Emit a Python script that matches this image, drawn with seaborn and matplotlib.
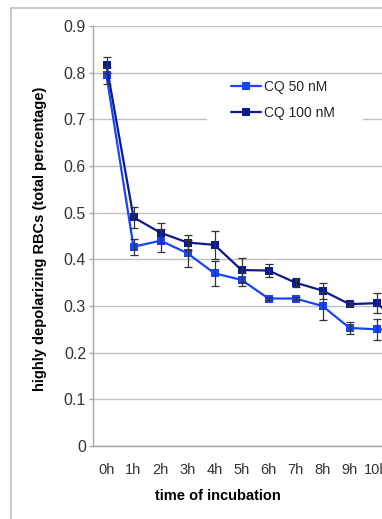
import numpy as np
import pandas as pd
import matplotlib
matplotlib.use("Agg")
import matplotlib.pyplot as plt
import seaborn as sns
from matplotlib.lines import Line2D
from matplotlib.patches import Rectangle

# values (last point runs off the right edge)
times = ['0h', '1h', '2h', '3h', '4h', '5h', '6h', '7h', '8h', '9h', '10h', '11h']
cq50 = [0.794, 0.427, 0.440, 0.413, 0.370, 0.356, 0.316, 0.316, 0.300, 0.253, 0.250, 0.248]
cq50_err = [0.018, 0.017, 0.025, 0.029, 0.027, 0.014, 0.003, 0.004, 0.031, 0.012, 0.023, 0.0]
cq100 = [0.816, 0.490, 0.457, 0.436, 0.431, 0.377, 0.376, 0.350, 0.333, 0.304, 0.306, 0.26]
cq100_err = [0.017, 0.023, 0.021, 0.016, 0.030, 0.026, 0.014, 0.010, 0.017, 0.004, 0.021, 0.0]
series_names = ['CQ 50 nM', 'CQ 100 nM']
series_colors = ['#1646FA', '#0D1A8C']
y_ticks = [0, 0.1, 0.2, 0.3, 0.4, 0.5, 0.6, 0.7, 0.8, 0.9]
y_tick_labels = ['0', '0.1', '0.2', '0.3', '0.4', '0.5', '0.6', '0.7', '0.8', '0.9']

sns.set_style('white')
plt.rcParams['font.family'] = ['Liberation Sans', 'DejaVu Sans']

n = len(times)
df = pd.DataFrame({
    'pos': np.tile(np.arange(n), 2),
    'value': cq50 + cq100,
    'err': cq50_err + cq100_err,
    'series': np.repeat(series_names, n),
})

W, H = 382, 519
fig = plt.figure(figsize=(W / 100, H / 100), dpi=100)
ax = fig.add_axes([93 / W, 1 - 446 / H, 289 / W, 420 / H])

ax.grid(axis='y', color='#bfbfbf', linewidth=1.0)
ax.set_axisbelow(True)

palette = dict(zip(series_names, series_colors))
sns.lineplot(data=df, x='pos', y='value', hue='series', hue_order=series_names,
             palette=palette, marker='s', markersize=5.5, markeredgewidth=0,
             linewidth=1.6, errorbar=None, legend=False, ax=ax, zorder=3)

for name in series_names:
    sub = df[df['series'] == name]
    ax.errorbar(sub['pos'], sub['value'], yerr=sub['err'], fmt='none',
                ecolor='#333333', elinewidth=0.9, capsize=2.7, capthick=0.9, zorder=4)

ax.set_xticks(np.arange(n))
ax.set_xticklabels(times)
ax.set_xticks(np.arange(-0.5, n, 1), minor=True)
ax.tick_params(axis='x', which='major', length=0, pad=12, labelsize=10.5, labelcolor='#333333')
ax.tick_params(axis='x', which='minor', length=3, width=1, color='#a6a6a6', direction='out')
ax.set_yticks(y_ticks)
ax.set_yticklabels(y_tick_labels)
ax.tick_params(axis='y', length=3, width=1, color='#a6a6a6', pad=2, labelsize=11.5,
               labelcolor='#333333', left=True)

# limits after the ticks, so the tick calls do not widen the view
ax.set_xlim(-0.5, -0.5 + 289 / 27)
ax.set_ylim(0, 0.9)

for s in ['top', 'right']:
    ax.spines[s].set_visible(False)
for s in ['left', 'bottom']:
    ax.spines[s].set_color('#a6a6a6')
    ax.spines[s].set_linewidth(1.0)

ax.set_xlabel('')
ax.set_ylabel('')

# legend sits on a white patch that hides the 0.7 gridline
ax.add_patch(Rectangle((207 / W, 1 - 127 / H), 156 / W, 51 / H, transform=fig.transFigure,
                       facecolor='white', edgecolor='none', zorder=1, clip_on=False))
handles = [Line2D([], [], color=c, marker='s', markersize=5.5, markeredgewidth=0, linewidth=1.6)
           for c in series_colors]
ax.legend(handles, series_names, loc='upper left', bbox_to_anchor=(231 / W, 1 - 80 / H),
          bbox_transform=fig.transFigure, frameon=False, fontsize=10, borderpad=0,
          borderaxespad=0, handlelength=2.15, handletextpad=0.2, labelspacing=0.85)

fig.text(40 / W, 1 - 239 / H, 'highly depolarizing RBCs (total percentage)', rotation=90,
         ha='center', va='center', fontsize=10.5, fontweight='bold', color='black')
fig.text(218 / W, 1 - 496 / H, 'time of incubation', ha='center', va='center',
         fontsize=10.5, fontweight='bold', color='black')

# outer chart frame
fig.add_artist(Line2D([11 / W, 1], [1 - 8 / H, 1 - 8 / H], transform=fig.transFigure,
                      color='#c0c0c0', linewidth=1.2))
fig.add_artist(Line2D([11 / W, 11 / W], [0, 1 - 8 / H], transform=fig.transFigure,
                      color='#c0c0c0', linewidth=1.2))

fig.savefig('out.png', dpi=100)
